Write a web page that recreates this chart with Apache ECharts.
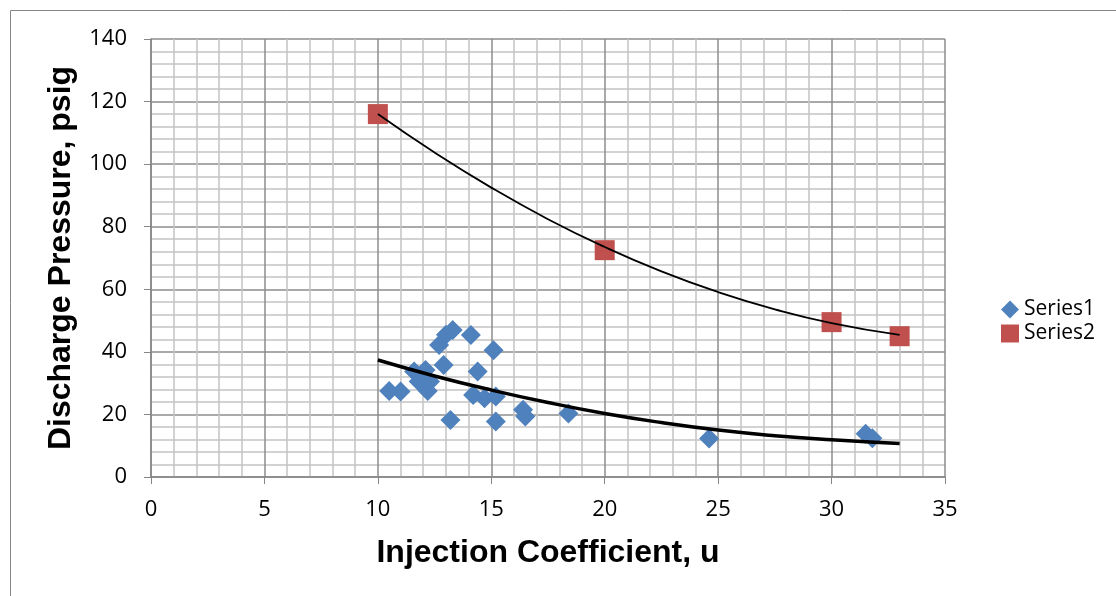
<!DOCTYPE html>
<html>
<head>
<meta charset="utf-8">
<script src="https://cdn.jsdelivr.net/npm/echarts@6/dist/echarts.min.js"></script>
<style>
html,body{margin:0;padding:0;background:#fff;}
#chart{width:1116px;height:596px;}
</style>
</head>
<body>
<div id="chart"></div>
<script>
// Series1: injection coefficient (x) vs discharge pressure (y)
const series1X = [10.5, 11.0, 11.6, 12.1, 11.8, 12.2, 12.3, 12.7, 13.0, 13.3, 12.9, 13.2, 14.1, 15.1, 14.4, 14.2, 14.7, 15.2, 15.2, 16.4, 16.5, 18.4, 24.6, 31.5, 31.8];
const series1Y = [27.5, 27.3, 33.7, 34.2, 30.5, 27.5, 30.5, 42.2, 45.5, 47.0, 35.8, 18.2, 45.4, 40.5, 33.7, 26.2, 25.2, 25.7, 17.7, 21.5, 19.3, 20.3, 12.3, 13.8, 12.4];
// Series2
const series2X = [10, 20, 30, 33];
const series2Y = [116, 72.5, 49.5, 45];
// Trend curves
const trend1X = [10, 12.5, 15, 17.5, 20, 22.5, 25, 27.5, 30, 33];
const trend1Y = [37.4, 32.3, 27.8, 23.8, 20.3, 17.4, 15.0, 13.2, 11.9, 10.7];
const trend2X = [10, 12.5, 15, 17.5, 20, 22.5, 25, 27.5, 30, 33];
const trend2Y = [116, 103.7, 92.5, 82.4, 73.5, 65.7, 59.1, 53.6, 49.2, 45.4];
// Axis ticks
const xTicks = [0, 5, 10, 15, 20, 25, 30, 35];
const yTicks = [0, 20, 40, 60, 80, 100, 120, 140];

const zip = (a, b) => a.map((v, i) => [v, b[i]]);

const chart = echarts.init(document.getElementById('chart'), null, {renderer: 'canvas'});
const labelFont = {fontFamily: 'Open Sans, Noto Sans, sans-serif', fontSize: 22, color: '#000'};
const titleFont = {fontFamily: 'Liberation Sans, Arial, sans-serif', fontWeight: 'bold', fontSize: 32, color: '#000'};
chart.setOption({
  animation: false,
  backgroundColor: '#fff',
  graphic: [{
    type: 'rect', left: 8, top: 8, silent: true,
    shape: {width: 1200, height: 700},
    style: {fill: 'none', stroke: '#868686', lineWidth: 1}
  }],
  grid: {left: 151, top: 39, right: 171, bottom: 119, containLabel: false},
  legend: {
    orient: 'vertical', left: 996, top: 294, itemGap: 3,
    itemWidth: 18, itemHeight: 18,
    textStyle: {fontFamily: 'Open Sans, Noto Sans, sans-serif', fontSize: 21, color: '#000'},
    data: [
      {name: 'Series1', icon: 'diamond'},
      {name: 'Series2', icon: 'rect'}
    ]
  },
  xAxis: {
    type: 'value', min: xTicks[0], max: xTicks[xTicks.length - 1], interval: 5,
    name: 'Injection Coefficient, u', nameLocation: 'middle', nameGap: 60,
    nameTextStyle: titleFont,
    axisLine: {show: true, onZero: false, lineStyle: {color: '#868686', width: 1.5}},
    axisTick: {show: true, length: 7, inside: false, lineStyle: {color: '#868686'}},
    axisLabel: Object.assign({margin: 22}, labelFont),
    splitLine: {show: true, lineStyle: {color: '#8c8c8c', width: 1.5}},
    minorTick: {show: false, splitNumber: 5},
    minorSplitLine: {show: true, lineStyle: {color: '#c4c4c4', width: 1.5}}
  },
  yAxis: {
    type: 'value', min: yTicks[0], max: yTicks[yTicks.length - 1], interval: 20,
    name: 'Discharge Pressure, psig', nameLocation: 'middle', nameGap: 74, nameRotate: 90,
    nameTextStyle: titleFont,
    axisLine: {show: true, onZero: false, lineStyle: {color: '#868686', width: 1.5}},
    axisTick: {show: true, length: 7, inside: false, lineStyle: {color: '#868686'}},
    axisLabel: Object.assign({margin: 24}, labelFont),
    splitLine: {show: true, lineStyle: {color: '#8c8c8c', width: 1.5}},
    minorTick: {show: false, splitNumber: 5},
    minorSplitLine: {show: true, lineStyle: {color: '#c4c4c4', width: 1.5}}
  },
  series: [
    {
      name: 'Series1', type: 'scatter', symbol: 'diamond', symbolSize: 20,
      itemStyle: {color: '#4F81BD', opacity: 1},
      data: zip(series1X, series1Y), z: 3
    },
    {
      name: 'Series2', type: 'scatter', symbol: 'rect', symbolSize: 20,
      itemStyle: {color: '#C0504D', opacity: 1},
      data: zip(series2X, series2Y), z: 3
    },
    {
      name: 'trend1', type: 'line', smooth: true, symbol: 'none',
      lineStyle: {color: '#000', width: 3.5}, data: zip(trend1X, trend1Y), z: 4
    },
    {
      name: 'trend2', type: 'line', smooth: true, symbol: 'none',
      lineStyle: {color: '#000', width: 1.8}, data: zip(trend2X, trend2Y), z: 4
    }
  ]
});
</script>
</body>
</html>
